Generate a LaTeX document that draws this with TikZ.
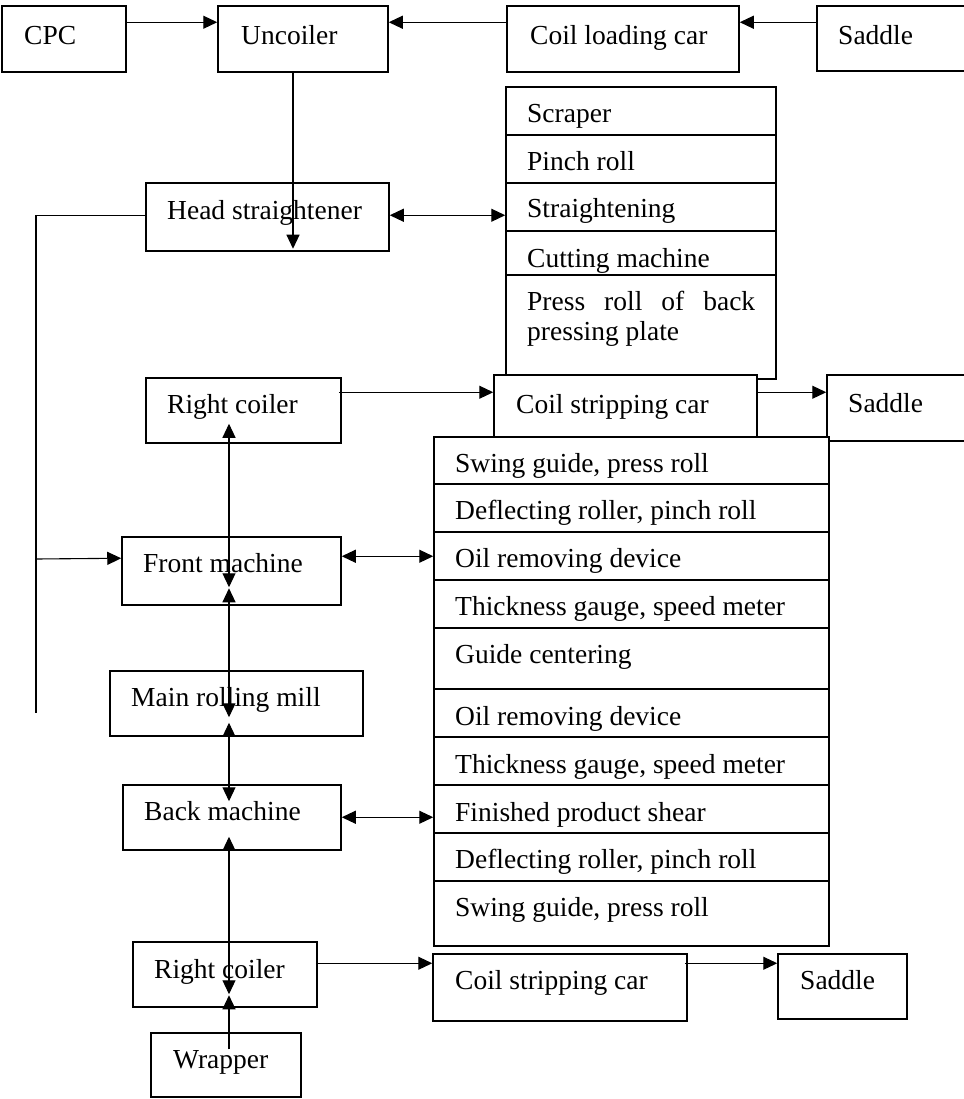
\documentclass[tikz,border=0pt]{standalone}
\usepackage{fontspec}
\setmainfont{Liberation Serif}
\usetikzlibrary{arrows.meta,fit,calc}
\tikzset{
  box/.style={draw, line width=1.5pt, inner sep=0pt, fill=white},
  lbl/.style={anchor=base west, inner sep=0pt, font=\fontsize{27.5}{33}\selectfont},
  conn/.style={line width=1.1pt},
  arr/.style={conn, -{Triangle[length=14pt,width=13pt]}},
  darr/.style={conn, {Triangle[length=14pt,width=13pt]}-{Triangle[length=14pt,width=13pt]}},
  divider/.style={line width=1.5pt},
}
\newcommand\mkbox[5]{\path (#2,#3) coordinate (#1-nw) (#4,#5) coordinate (#1-se); \node[box, fit=(#1-nw)(#1-se)] (#1) {};}
\begin{document}
\begin{tikzpicture}[x=1pt,y=-1pt]
\useasboundingbox (0,0) rectangle (963,1099);
\coordinate (spine) at (229,0);
% ---- boxes ----
\mkbox{cpc}{2}{6}{126}{72}
\mkbox{unc}{218}{6}{388}{72}
\mkbox{clc}{507}{6}{739}{72}
\mkbox{sadA}{817}{6}{970}{71}
\mkbox{listA}{506}{87}{776}{379}
\foreach \yy in {135,183,231,275} \draw[divider] (listA.west |- 0,\yy) -- (listA.east |- 0,\yy);
\mkbox{hs}{146}{183}{389}{251}
\mkbox{rcA}{146}{378}{341}{443}
\mkbox{cscA}{494}{375}{757}{437}
\mkbox{sadB}{827}{375}{970}{441}
\mkbox{listB}{434}{437}{829}{946}
\foreach \yy in {484,532,580,628,689,737,785,833,881} \draw[divider] (listB.west |- 0,\yy) -- (listB.east |- 0,\yy);
\mkbox{fm}{122}{537}{341}{605}
\mkbox{mrm}{110}{671}{363}{736}
\mkbox{bm}{123}{785}{341}{850}
\mkbox{rcB}{133}{942}{317}{1007}
\mkbox{cscB}{433}{954}{687}{1021}
\mkbox{sadC}{778}{954}{907}{1019}
\mkbox{wr}{151}{1033}{301}{1097}
% ---- texts ----
\node[lbl] (t1) at (24,45) {CPC};
\node[lbl] (t2) at (241,45) {Uncoiler};
\node[lbl] (t3) at (530,45) {Coil loading car};
\node[lbl] (t4) at (838,45) {Saddle};
\node[lbl] (t5) at (527,123) {Scraper};
\node[lbl] (t6) at (527,171) {Pinch roll};
\node[lbl] (t7) at (527,218) {Straightening};
\node[lbl] (t8) at (527,267) {Cutting machine};
\node[lbl] (t9) at (527,310) {\makebox[228pt][s]{Press roll of back}};
\node[lbl] (t10) at (527,340) {pressing plate};
\node[lbl] (t11) at (167,219) {Head straightener};
\node[lbl] (t12) at (167,413) {Right coiler};
\node[lbl] (t13) at (516,413) {Coil stripping car};
\node[lbl] (t14) at (848,412) {Saddle};
\node[lbl] (t15) at (455,472) {Swing guide, press roll};
\node[lbl] (t16) at (455,519) {Deflecting roller, pinch roll};
\node[lbl] (t17) at (455,567) {Oil removing device};
\node[lbl] (t18) at (455,615) {Thickness gauge, speed meter};
\node[lbl] (t19) at (455,663) {Guide centering};
\node[lbl] (t20) at (455,725) {Oil removing device};
\node[lbl] (t21) at (455,773) {Thickness gauge, speed meter};
\node[lbl] (t22) at (455,821) {Finished product shear};
\node[lbl] (t23) at (455,868) {Deflecting roller, pinch roll};
\node[lbl] (t24) at (455,916) {Swing guide, press roll};
\node[lbl] (t25) at (143,572) {Front machine};
\node[lbl] (t26) at (131,706) {Main rolling mill};
\node[lbl] (t27) at (144,820) {Back machine};
\node[lbl] (t28) at (154,978) {Right coiler};
\node[lbl] (t29) at (455,989) {Coil stripping car};
\node[lbl] (t30) at (800,989) {Saddle};
\node[lbl] (t31) at (173,1068) {Wrapper};
% ---- connectors ----
\draw[arr] ($(cpc.north east)+(0,17)$) -- ($(unc.north west)+(0,17)$);
\draw[arr] ($(clc.north west)+(0,17)$) -- ($(unc.north east)+(0,17)$);
\draw[arr] ($(sadA.north west)+(0,17)$) -- ($(clc.north east)+(0,17)$);
\draw[arr] ($(unc.south)+(-10,0)$) -- ($(hs.south -| unc.south)+(-10,-3)$);
\draw[darr] ($(hs.north east)+(0,33)$) -- ($(listA.north west |- hs.north)+(0,33)$);
\coordinate (leftend) at (36,713);
\coordinate (branch) at (36,559);
\draw[conn] ($(hs.north west)+(0,33)$) -| (leftend);
\draw[arr] (branch) -- ($(fm.north west)+(0,22)$);
\draw[darr] ($(fm.north east)+(0,20)$) -- ($(listB.west |- fm.north)+(0,20)$);
\draw[arr] ($(rcA.north east)+(-3,15)$) -- ($(cscA.north west)+(0,18)$);
\draw[arr] ($(cscA.north east)+(0,18)$) -- ($(sadB.north west)+(0,18)$);
\draw[darr] ($(bm.north east)+(0,33)$) -- ($(listB.west |- bm.north)+(0,33)$);
\draw[arr] ($(rcB.north east)+(-2,22)$) -- ($(cscB.north west)+(0,10)$);
\draw[arr] ($(cscB.north east)+(-3,10)$) -- ($(sadC.north west)+(0,10)$);
% spine
\draw[darr] ($(rcA.south -| spine)+(0,-20)$) -- ($(fm.north -| spine)+(0,51)$);
\draw[darr] ($(fm.north -| spine)+(0,52)$) -- ($(mrm.north -| spine)+(0,47)$);
\draw[darr] ($(mrm.south -| spine)+(0,-14)$) -- ($(bm.north -| spine)+(0,17)$);
\draw[darr] ($(bm.south -| spine)+(0,-14)$) -- ($(rcB.north -| spine)+(0,53)$);
\draw[arr] ($(wr.north -| spine)+(0,17)$) -- ($(rcB.north -| spine)+(0,54)$);
\end{tikzpicture}
\end{document}
